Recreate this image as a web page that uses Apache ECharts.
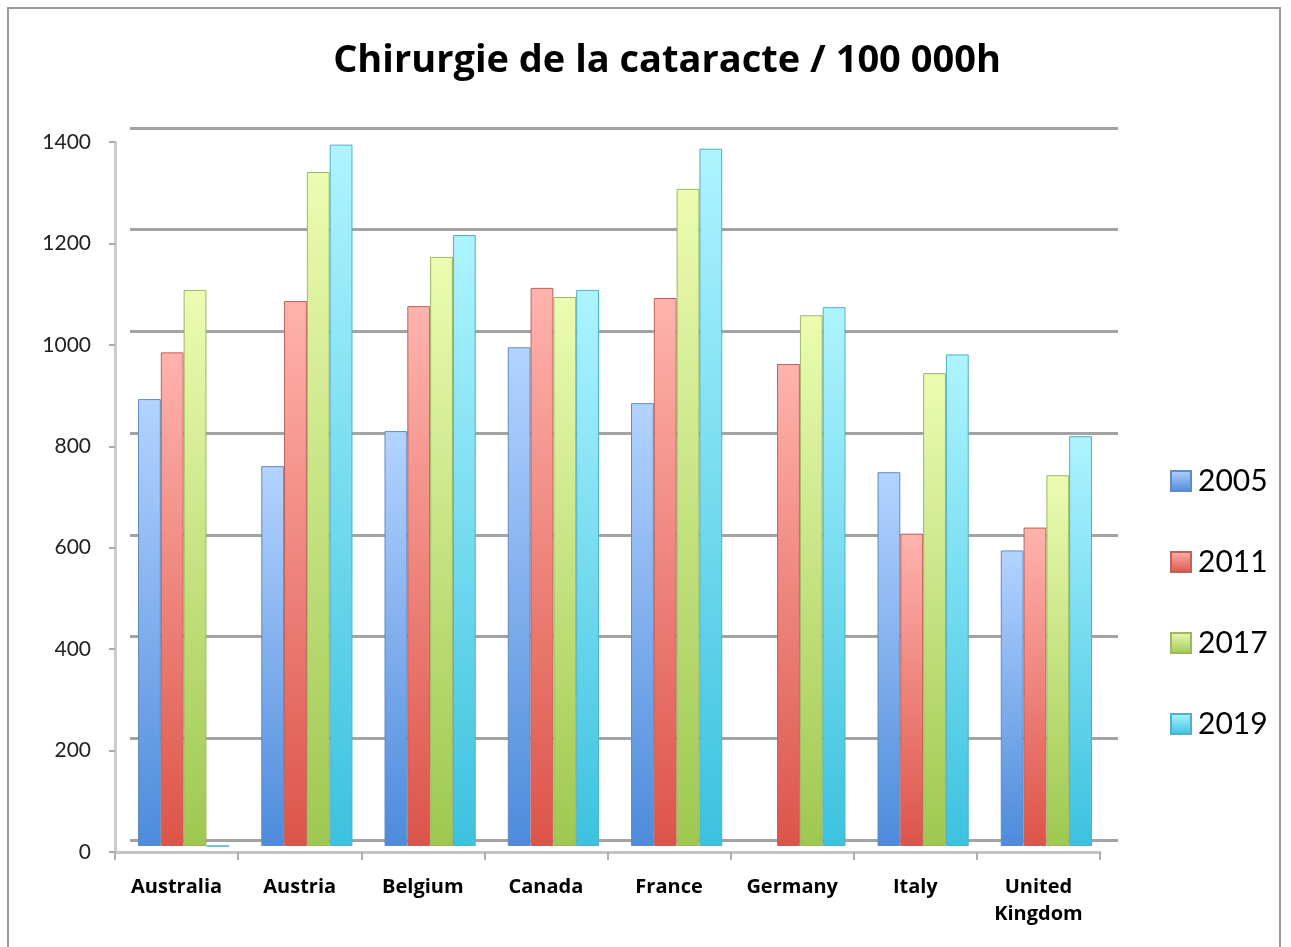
<!DOCTYPE html>
<html>
<head>
<meta charset="utf-8">
<script src="https://cdn.jsdelivr.net/npm/echarts@6/dist/echarts.min.js"></script>
<style>
  html, body { margin: 0; padding: 0; background: #fff; }
  #frame { position: absolute; left: 7px; top: 7px; width: 1274px; height: 960px; border: 2px solid #9a9a9a; box-sizing: border-box; }
  #chart { position: absolute; left: 0; top: 0; width: 1291px; height: 947px; }
</style>
</head>
<body>
<div id="frame"></div>
<div id="chart"></div>
<script>
var countries = ['Australia', 'Austria', 'Belgium', 'Canada', 'France', 'Germany', 'Italy', 'United\nKingdom'];
var years = ['2005', '2011', '2017', '2019'];
var v2005 = [880, 748, 817, 982, 872, null, 736, 582];
var v2011 = [972, 1073, 1063, 1099, 1079, 949, 615, 627];
var v2017 = [1095, 1327, 1160, 1081, 1294, 1045, 931, 730];
var v2019 = [0, 1381, 1203, 1095, 1373, 1061, 968, 807];
var yTicks = [0, 200, 400, 600, 800, 1000, 1200, 1400];

var shades = [
  { top: '#b4d3ff', bottom: '#4d8bdb', edge: '#5f8cc4' },
  { top: '#ffb3ad', bottom: '#dc5449', edge: '#c0605a' },
  { top: '#ecfcb2', bottom: '#9ec850', edge: '#9cb860' },
  { top: '#aef4ff', bottom: '#3cc2df', edge: '#4fb0c6' }
];
var values = [v2005, v2011, v2017, v2019];

var chart = echarts.init(document.getElementById('chart'));

var font = '"Open Sans", Lato, sans-serif';

var series = years.map(function (y, i) {
  return {
    name: y,
    type: 'bar',
    xAxisIndex: 2,
    yAxisIndex: 2,
    barGap: '0%',
    barCategoryGap: '26%',
    data: values[i],
    itemStyle: {
      color: new echarts.graphic.LinearGradient(0, 0, 0, 1, [
        { offset: 0, color: shades[i].top },
        { offset: 1, color: shades[i].bottom }
      ]),
      borderColor: shades[i].edge,
      borderWidth: 1
    }
  };
});

chart.setOption({
  animation: false,
  title: {
    text: 'Chirurgie de la cataracte / 100 000h',
    left: 662,
    textAlign: 'center',
    top: 37,
    textStyle: { fontFamily: font, fontWeight: 'bold', fontSize: 38, color: '#000' }
  },
  legend: {
    orient: 'vertical',
    left: 1165,
    top: 461,
    itemWidth: 20,
    itemHeight: 20,
    itemGap: 51,
    icon: 'rect',
    data: years,
    textStyle: { fontFamily: 'Lato, sans-serif', fontSize: 30, color: '#000', padding: [0, 0, 0, 2] }
  },
  grid: [
    // front plane: axis labels
    { left: 115, right: 191, top: 142, bottom: 95 },
    // back wall: gridlines
    { left: 130, right: 173, top: 128, bottom: 107 },
    // mid depth: bars
    { left: 122, right: 183, top: 135, bottom: 101 }
  ],
  xAxis: [
    {
      gridIndex: 0,
      type: 'category',
      data: countries,
      axisLine: { lineStyle: { color: '#c4c4c4', width: 3 } },
      axisTick: { show: true, length: 8, lineStyle: { color: '#b0b0b0', width: 2 } },
      axisLabel: {
        margin: 22,
        fontFamily: font,
        fontWeight: 'bold',
        fontSize: 20,
        color: '#000',
        lineHeight: 27
      }
    },
    {
      gridIndex: 1,
      type: 'category',
      data: countries,
      axisLine: { show: false },
      axisTick: { show: false },
      axisLabel: { show: false }
    },
    {
      gridIndex: 2,
      type: 'category',
      data: countries,
      axisLine: { show: false },
      axisTick: { show: false },
      axisLabel: { show: false }
    }
  ],
  yAxis: [
    {
      gridIndex: 0,
      type: 'value',
      min: 0,
      max: 1400,
      interval: 200,
      axisLine: { show: true, lineStyle: { color: '#cccccc', width: 3 } },
      axisTick: { show: true, length: 6, lineStyle: { color: '#aaaaaa', width: 2 } },
      splitLine: { show: false },
      axisLabel: {
        margin: 24,
        fontFamily: 'Lato, sans-serif',
        fontSize: 21,
        color: '#222',
        formatter: function (v) { return yTicks.indexOf(v) >= 0 ? String(v) : ''; }
      }
    },
    {
      gridIndex: 1,
      type: 'value',
      min: 0,
      max: 1400,
      interval: 200,
      axisLine: { show: false },
      axisTick: { show: false },
      axisLabel: { show: false },
      splitLine: { show: true, lineStyle: { color: '#a3a3a3', width: 3 } }
    },
    {
      gridIndex: 2,
      type: 'value',
      min: 0,
      max: 1400,
      interval: 200,
      axisLine: { show: false },
      axisTick: { show: false },
      axisLabel: { show: false },
      splitLine: { show: false }
    }
  ],
  series: series
});
</script>
</body>
</html>
